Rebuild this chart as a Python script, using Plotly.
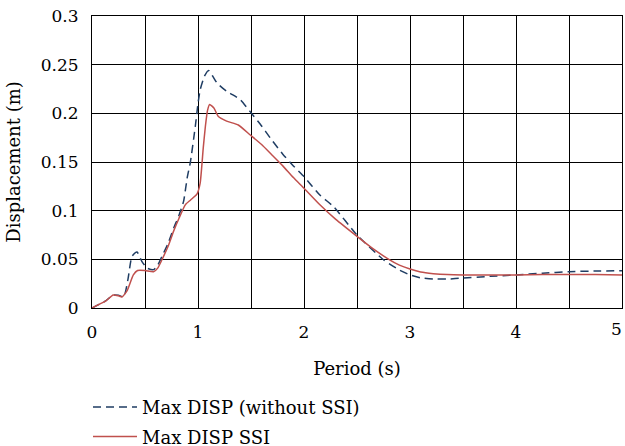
import plotly.graph_objects as go

# Period (s) and max displacement (m) - SSI case
period_ssi = [0, 0.08, 0.125, 0.2, 0.25, 0.283, 0.33, 0.39, 0.43, 0.5, 0.58, 0.62, 0.66, 0.72,
              0.77, 0.82, 0.88, 0.93, 0.99, 1.02, 1.05, 1.07, 1.09, 1.11, 1.15, 1.19, 1.27,
              1.38, 1.49, 1.6, 1.7, 1.8, 1.9, 2.0, 2.15, 2.3, 2.5, 2.65, 2.8, 2.9, 3.0, 3.1,
              3.22, 3.35, 3.5, 3.75, 4.0, 4.25, 4.5, 4.75, 5.0]
disp_ssi = [0, 0.0045, 0.0068, 0.0134, 0.0125, 0.0113, 0.0175, 0.034, 0.0385, 0.0385, 0.0372,
            0.041, 0.0496, 0.064, 0.079, 0.092, 0.106, 0.111, 0.117, 0.128, 0.165, 0.187,
            0.203, 0.209, 0.2055, 0.197, 0.192, 0.188, 0.178, 0.168, 0.157, 0.146, 0.134,
            0.123, 0.106, 0.091, 0.0736, 0.061, 0.050, 0.044, 0.040, 0.037, 0.0353, 0.0343,
            0.0339, 0.0339, 0.034, 0.0343, 0.0345, 0.0343, 0.034]

# Without SSI
period_fix = [0, 0.08, 0.125, 0.2, 0.25, 0.3, 0.34, 0.377, 0.425, 0.47, 0.52, 0.58, 0.62, 0.66,
              0.72, 0.77, 0.82, 0.864, 0.9, 0.927, 0.975, 1.0, 1.02, 1.06, 1.10, 1.14, 1.18,
              1.27, 1.36, 1.40, 1.49, 1.6, 1.68, 1.8, 1.9, 2.0, 2.15, 2.28, 2.5, 2.75, 2.9,
              3.0, 3.1, 3.22, 3.35, 3.5, 3.75, 4.0, 4.25, 4.5, 4.75, 5.0]
disp_fix = [0, 0.0045, 0.007, 0.0134, 0.013, 0.0115, 0.03, 0.053, 0.0575, 0.048, 0.041, 0.0394,
            0.044, 0.053, 0.067, 0.082, 0.095, 0.1096, 0.135, 0.149, 0.187, 0.21, 0.224, 0.238,
            0.244, 0.238, 0.231, 0.2226, 0.217, 0.214, 0.202, 0.187, 0.175, 0.158, 0.146,
            0.135, 0.116, 0.104, 0.075, 0.0496, 0.039, 0.034, 0.031, 0.0298, 0.0297, 0.0308,
            0.0325, 0.034, 0.0358, 0.0373, 0.038, 0.0383]

x_tick_vals = [0, 1, 2, 3, 4]
x_last_tick = 5

FONT = "DejaVu Serif"
FS = 18
FS_TICK = 17

fig = go.Figure()
fig.add_trace(go.Scatter(x=period_fix, y=disp_fix, mode="lines", name="Max DISP (without SSI)",
                         legendgroup="a",
                         line=dict(color="#1f3d63", width=1.5, dash="8px,5px", shape="spline", smoothing=0.5)))
fig.add_trace(go.Scatter(x=period_ssi, y=disp_ssi, mode="lines", name="Max DISP SSI",
                         legendgroup="b",
                         line=dict(color="#c0504d", width=1.5, shape="spline", smoothing=0.5)))

fig.update_layout(
    width=625, height=446,
    margin=dict(l=92, r=3, t=16, b=138, autoexpand=False),
    paper_bgcolor="white", plot_bgcolor="white",
    font=dict(family=FONT, size=FS, color="black"),
    showlegend=True,
    legend=dict(orientation="v", x=-4 / 530, xanchor="left",
                y=-0.277, yanchor="top",
                font=dict(family=FONT, size=FS, color="black"), itemwidth=44,
                bgcolor="rgba(0,0,0,0)", traceorder="grouped", tracegroupgap=3),
)
fig.add_annotation(x=x_last_tick, y=0, xref="x", yref="paper", text=str(x_last_tick),
                   showarrow=False, xanchor="right", yanchor="top", xshift=2, yshift=-9,
                   font=dict(family=FONT, size=FS_TICK, color="black"))
fig.update_xaxes(range=[0, 5], tickvals=x_tick_vals,
                 showgrid=True, gridcolor="black", gridwidth=1,
                 minor=dict(dtick=0.5, showgrid=True, gridcolor="black", gridwidth=1),
                 showline=True, linecolor="black", linewidth=1, mirror=True, zeroline=False,
                 ticks="", ticklabelstandoff=9, tickfont=dict(family=FONT, size=FS_TICK),
                 title=dict(text="Period (s)", standoff=20, font=dict(family=FONT, size=FS)))
fig.update_yaxes(range=[0, 0.3], dtick=0.05, showgrid=True, gridcolor="black", gridwidth=1,
                 showline=True, linecolor="black", linewidth=1, mirror=True, zeroline=False,
                 ticks="", ticklabelstandoff=9, tickfont=dict(family=FONT, size=FS_TICK),
                 title=dict(text="Displacement (m)", font=dict(family=FONT, size=FS)))

fig.write_html("out.html")
